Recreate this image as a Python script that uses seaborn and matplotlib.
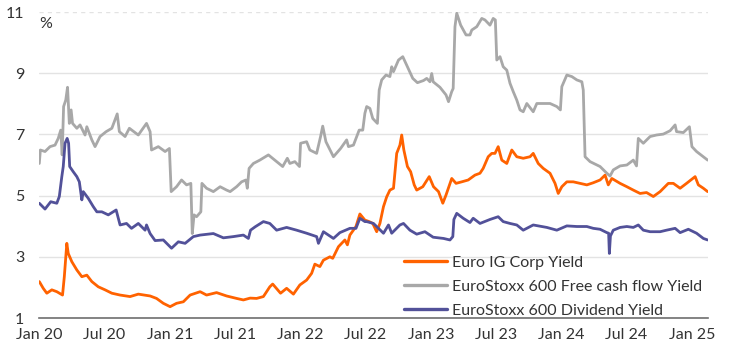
import matplotlib
matplotlib.use("Agg")
import matplotlib.pyplot as plt
import matplotlib.dates as mdates
import pandas as pd
import seaborn as sns

# --- data (% yields) ---

# Euro IG corporate bond yield
ig_dates = ["2020-01-01", "2020-01-12", "2020-01-22", "2020-02-05", "2020-02-19", "2020-03-06", "2020-03-11",
            "2020-03-18", "2020-03-22", "2020-04-01", "2020-04-15", "2020-04-29", "2020-05-13", "2020-05-27",
            "2020-06-14", "2020-07-03", "2020-07-22", "2020-08-14", "2020-09-11", "2020-10-04", "2020-11-06",
            "2020-11-24", "2020-12-13", "2021-01-01", "2021-01-19", "2021-02-07", "2021-02-26", "2021-03-26",
            "2021-04-13", "2021-05-11", "2021-06-08", "2021-07-06", "2021-07-25", "2021-08-13", "2021-08-31",
            "2021-09-19", "2021-10-07", "2021-10-15", "2021-11-06", "2021-11-23", "2021-12-12", "2021-12-30",
            "2022-01-18", "2022-02-01", "2022-02-10", "2022-02-24", "2022-03-06", "2022-03-24", "2022-04-01",
            "2022-04-17", "2022-05-05", "2022-05-12", "2022-05-19", "2022-06-05", "2022-06-16", "2022-06-30",
            "2022-07-12", "2022-07-22", "2022-08-02", "2022-08-11", "2022-08-21", "2022-08-30", "2022-09-08",
            "2022-09-18", "2022-09-27", "2022-10-06", "2022-10-11", "2022-10-17", "2022-10-27", "2022-11-05",
            "2022-11-15", "2022-11-22", "2022-12-09", "2022-12-27", "2023-01-08", "2023-01-22", "2023-02-03",
            "2023-02-12", "2023-02-28", "2023-03-12", "2023-03-28", "2023-04-15", "2023-05-04", "2023-05-18",
            "2023-05-27", "2023-06-10", "2023-06-20", "2023-06-29", "2023-07-08", "2023-07-18", "2023-08-01",
            "2023-08-15", "2023-08-29", "2023-09-16", "2023-10-05", "2023-10-14", "2023-10-28", "2023-11-11",
            "2023-11-30", "2023-12-14", "2023-12-23", "2024-01-02", "2024-01-16", "2024-02-03", "2024-02-22",
            "2024-03-12", "2024-03-30", "2024-04-18", "2024-05-02", "2024-05-11", "2024-05-21", "2024-06-13",
            "2024-07-02", "2024-07-20", "2024-08-08", "2024-08-26", "2024-09-14", "2024-10-03", "2024-10-26",
            "2024-11-09", "2024-11-28", "2024-12-16", "2025-01-09", "2025-01-18", "2025-02-01", "2025-02-13"]
ig_yield = [2.19, 1.97, 1.81, 1.92, 1.86, 1.75, 2.35, 3.44, 3.11, 2.84, 2.57, 2.35, 2.40, 2.19,
            2.02, 1.92, 1.81, 1.75, 1.70, 1.78, 1.72, 1.64, 1.48, 1.37, 1.48, 1.53, 1.75, 1.86,
            1.75, 1.83, 1.72, 1.64, 1.59, 1.65, 1.64, 1.70, 2.02, 2.11, 1.81, 1.97, 1.78, 2.08,
            2.24, 2.46, 2.76, 2.68, 2.89, 3.00, 2.95, 3.33, 3.55, 3.39, 3.71, 3.99, 4.40, 4.20,
            4.15, 4.09, 3.82, 4.09, 4.64, 4.96, 5.18, 5.24, 6.38, 6.65, 6.98, 6.49, 5.95, 5.78,
            5.35, 5.18, 5.29, 5.62, 5.29, 5.13, 4.75, 5.02, 5.56, 5.40, 5.45, 5.51, 5.67, 5.73,
            5.89, 6.27, 6.38, 6.38, 6.60, 6.16, 6.05, 6.49, 6.27, 6.22, 6.27, 6.38, 6.05, 5.89,
            5.73, 5.40, 5.07, 5.29, 5.45, 5.45, 5.40, 5.35, 5.42, 5.51, 5.67, 5.35, 5.56, 5.40,
            5.29, 5.18, 5.07, 5.10, 4.97, 5.13, 5.40, 5.40, 5.24, 5.40, 5.62, 5.35, 5.24, 5.13]

# EuroStoxx 600 free cash flow yield
fcf_dates = ["2020-01-01", "2020-01-04", "2020-01-17", "2020-01-31", "2020-02-14", "2020-02-23", "2020-03-01",
             "2020-03-05", "2020-03-09", "2020-03-15", "2020-03-20", "2020-03-25", "2020-03-30", "2020-04-03",
             "2020-04-15", "2020-04-24", "2020-05-08", "2020-05-13", "2020-05-27", "2020-06-05", "2020-06-19",
             "2020-07-06", "2020-07-22", "2020-08-06", "2020-08-12", "2020-08-28", "2020-09-09", "2020-10-04",
             "2020-10-27", "2020-11-06", "2020-11-10", "2020-11-29", "2020-12-18", "2020-12-30", "2021-01-04",
             "2021-01-19", "2021-02-02", "2021-02-16", "2021-02-28", "2021-03-04", "2021-03-09", "2021-03-16",
             "2021-03-28", "2021-03-31", "2021-04-13", "2021-05-02", "2021-05-21", "2021-06-08", "2021-06-18",
             "2021-07-06", "2021-07-20", "2021-08-01", "2021-08-05", "2021-08-10", "2021-08-22", "2021-09-09",
             "2021-10-03", "2021-10-26", "2021-11-12", "2021-11-25", "2021-12-02", "2021-12-16", "2021-12-29",
             "2022-01-01", "2022-01-18", "2022-01-27", "2022-02-15", "2022-02-26", "2022-03-04", "2022-03-13",
             "2022-04-03", "2022-04-23", "2022-05-10", "2022-05-15", "2022-05-29", "2022-06-14", "2022-06-24",
             "2022-06-30", "2022-07-05", "2022-07-14", "2022-07-22", "2022-08-04", "2022-08-09", "2022-08-16",
             "2022-08-28", "2022-09-08", "2022-09-13", "2022-09-18", "2022-10-02", "2022-10-14", "2022-10-27",
             "2022-11-11", "2022-11-24", "2022-12-11", "2022-12-20", "2022-12-29", "2023-01-03", "2023-01-07",
             "2023-01-26", "2023-02-12", "2023-02-19", "2023-02-28", "2023-03-04", "2023-03-09", "2023-03-14",
             "2023-03-25", "2023-04-09", "2023-04-20", "2023-04-25", "2023-05-09", "2023-05-23", "2023-06-01",
             "2023-06-15", "2023-06-24", "2023-06-30", "2023-07-04", "2023-07-13", "2023-07-22", "2023-08-01",
             "2023-08-10", "2023-08-19", "2023-08-29", "2023-09-07", "2023-09-16", "2023-09-26", "2023-10-14",
             "2023-10-24", "2023-11-11", "2023-11-30", "2023-12-19", "2023-12-29", "2024-01-02", "2024-01-16",
             "2024-01-30", "2024-02-13", "2024-02-27", "2024-03-02", "2024-03-07", "2024-03-21", "2024-04-09",
             "2024-04-18", "2024-05-07", "2024-05-16", "2024-05-25", "2024-06-13", "2024-07-02", "2024-07-20",
             "2024-07-29", "2024-08-03", "2024-08-17", "2024-09-05", "2024-09-23", "2024-10-12", "2024-10-31",
             "2024-11-14", "2024-11-18", "2024-12-07", "2024-12-24", "2024-12-31", "2025-01-13", "2025-02-01",
             "2025-02-13"]
fcf_yield = [6.05, 6.49, 6.44, 6.60, 6.65, 6.87, 7.14, 6.33, 7.91, 8.12, 8.54, 7.36, 7.80, 7.36,
             7.20, 7.31, 6.98, 7.25, 6.82, 6.60, 6.93, 7.09, 7.20, 7.67, 7.09, 6.93, 7.20, 6.98,
             7.36, 7.09, 6.49, 6.60, 6.44, 6.54, 5.13, 5.29, 5.51, 5.35, 5.40, 3.76, 4.37, 4.31,
             4.47, 5.40, 5.24, 5.13, 5.29, 5.18, 5.13, 5.29, 5.45, 5.51, 5.24, 5.89, 6.05, 6.16,
             6.33, 6.11, 5.95, 6.22, 6.05, 6.11, 5.95, 6.71, 6.76, 6.49, 6.38, 6.93, 7.27, 6.76,
             6.27, 6.54, 6.82, 6.60, 6.65, 7.14, 7.14, 7.69, 7.91, 7.85, 7.52, 7.36, 8.45, 8.78,
             8.94, 8.89, 9.21, 9.05, 9.43, 9.54, 9.21, 8.83, 8.69, 8.76, 8.83, 8.72, 8.99, 8.72,
             8.54, 8.29, 8.07, 8.40, 8.50, 10.52, 10.96, 10.57, 10.25, 10.25, 10.41, 10.52, 10.79, 10.74,
             10.57, 10.79, 10.74, 9.43, 9.54, 9.21, 9.10, 8.67, 8.40, 8.12, 7.80, 7.74, 8.01, 7.74,
             8.01, 8.01, 8.01, 7.91, 7.80, 8.56, 8.94, 8.89, 8.78, 8.72, 8.45, 6.27, 6.11, 6.00,
             5.95, 5.73, 5.64, 5.84, 5.97, 6.00, 6.16, 5.97, 6.87, 6.71, 6.93, 6.98, 7.01, 7.12,
             7.31, 7.09, 7.06, 7.25, 6.60, 6.44, 6.27, 6.16]

# EuroStoxx 600 dividend yield
div_dates = ["2020-01-01", "2020-01-17", "2020-02-02", "2020-02-19", "2020-02-26", "2020-03-04", "2020-03-08",
             "2020-03-13", "2020-03-19", "2020-03-23", "2020-03-26", "2020-04-05", "2020-04-15", "2020-04-22",
             "2020-04-29", "2020-05-03", "2020-05-17", "2020-05-31", "2020-06-10", "2020-06-24", "2020-07-12",
             "2020-08-03", "2020-08-14", "2020-09-01", "2020-09-15", "2020-10-04", "2020-10-23", "2020-10-27",
             "2020-11-06", "2020-11-20", "2020-12-13", "2021-01-05", "2021-01-24", "2021-02-12", "2021-03-07",
             "2021-03-26", "2021-05-02", "2021-05-30", "2021-06-27", "2021-07-25", "2021-08-08", "2021-08-14",
             "2021-08-27", "2021-09-19", "2021-10-07", "2021-10-26", "2021-11-23", "2021-12-21", "2022-01-18",
             "2022-02-15", "2022-02-20", "2022-03-06", "2022-04-03", "2022-04-21", "2022-05-19", "2022-06-05",
             "2022-06-16", "2022-06-30", "2022-07-05", "2022-07-24", "2022-08-07", "2022-08-21", "2022-09-04",
             "2022-09-13", "2022-10-06", "2022-10-16", "2022-11-03", "2022-11-22", "2022-12-15", "2023-01-07",
             "2023-02-05", "2023-02-23", "2023-03-03", "2023-03-06", "2023-03-14", "2023-04-01", "2023-04-20",
             "2023-04-29", "2023-05-18", "2023-06-15", "2023-07-08", "2023-07-22", "2023-08-10", "2023-08-29",
             "2023-09-16", "2023-10-14", "2023-11-21", "2023-12-19", "2024-01-16", "2024-02-13", "2024-03-12",
             "2024-03-30", "2024-04-18", "2024-05-07", "2024-05-12", "2024-05-14", "2024-05-17", "2024-05-25",
             "2024-06-13", "2024-07-02", "2024-07-20", "2024-08-03", "2024-08-17", "2024-09-05", "2024-10-03",
             "2024-10-21", "2024-11-14", "2024-11-28", "2024-12-21", "2025-01-13", "2025-02-01", "2025-02-13"]
div_yield = [4.75, 4.56, 4.80, 4.75, 4.97, 5.62, 5.95, 6.71, 6.87, 6.71, 5.95, 5.78, 5.62, 5.45,
             4.86, 5.13, 4.91, 4.64, 4.47, 4.47, 4.37, 4.53, 4.04, 4.09, 3.93, 4.09, 3.87, 4.04,
             3.76, 3.53, 3.55, 3.28, 3.49, 3.44, 3.66, 3.71, 3.76, 3.62, 3.66, 3.71, 3.60, 3.87,
             3.98, 4.15, 4.09, 3.87, 3.96, 3.87, 3.77, 3.66, 3.44, 3.82, 3.60, 3.79, 3.93, 3.93,
             4.26, 4.15, 4.15, 4.09, 3.93, 3.77, 4.04, 3.77, 4.04, 4.09, 3.87, 3.74, 3.82, 3.64,
             3.60, 3.55, 3.66, 4.22, 4.42, 4.26, 4.12, 4.26, 4.09, 4.22, 4.31, 4.15, 4.09, 4.04,
             3.87, 4.04, 3.96, 3.87, 4.01, 3.99, 3.99, 3.93, 3.90, 3.79, 3.77, 3.11, 3.68, 3.87,
             3.96, 3.99, 3.96, 4.04, 3.87, 3.82, 3.82, 3.87, 3.93, 3.79, 3.90, 3.77, 3.60, 3.55]

series_names = ["Euro IG Corp Yield", "EuroStoxx 600 Free cash flow Yield", "EuroStoxx 600 Dividend Yield"]
series_colors = ["#FF6200", "#A8A8A8", "#525199"]
y_ticks = [1, 3, 5, 7, 9, 11]

# long-form frame for seaborn
frames = []
for name, d, v in zip(series_names, [ig_dates, fcf_dates, div_dates], [ig_yield, fcf_yield, div_yield]):
    frames.append(pd.DataFrame({"date": pd.to_datetime(d), "value": v, "series": name}))
df = pd.concat(frames, ignore_index=True)

sns.set_theme(style="white")
plt.rcParams["font.family"] = ["Lato", "DejaVu Sans"]

fig = plt.figure(figsize=(7.43, 3.54), dpi=100)
ax = fig.add_axes([39.3 / 743, 1 - 318 / 354, (708 - 39.3) / 743, 306 / 354])

sns.lineplot(data=df, x="date", y="value", hue="series", hue_order=series_names,
             palette=dict(zip(series_names, series_colors)), linewidth=2.0,
             estimator=None, ax=ax)

# axes cosmetics
ax.set_xlim(pd.Timestamp("2020-01-01"), pd.Timestamp("2025-02-14"))
ax.set_ylim(1, 11)
ax.set_yticks(y_ticks)
ax.set_xlabel("")
ax.set_ylabel("")
ax.xaxis.set_major_locator(mdates.MonthLocator(bymonth=[1, 7]))
ax.xaxis.set_major_formatter(mdates.DateFormatter("%b %y"))

ax.yaxis.grid(True, color="#E3E3E3", linewidth=1.0)
ax.xaxis.grid(False)
ax.get_ygridlines()[-1].set_linestyle((0, (3, 3)))
ax.set_axisbelow(True)

for s in ["left", "right", "top"]:
    ax.spines[s].set_visible(False)
ax.spines["bottom"].set_color("#6E6E6E")
ax.spines["bottom"].set_linewidth(1.2)

ax.tick_params(axis="x", length=4, width=1, color="#6E6E6E", labelsize=11.5, labelcolor="#333333", pad=3)
ax.tick_params(axis="y", length=0, labelsize=11.5, labelcolor="#333333", pad=11)

ax.text(0.0, 0.985, "%", transform=ax.transAxes, ha="left", va="top", fontsize=11.5, color="#333333")

handles, labels = ax.get_legend_handles_labels()
for h in handles:
    h.set_linewidth(2.4)
ax.legend(handles, labels, loc="lower left", bbox_to_anchor=(0.545, 0.0), frameon=False,
          fontsize=11.5, handlelength=2.7, handletextpad=0.35, labelspacing=0.62,
          borderpad=0, borderaxespad=0, labelcolor="#333333")

fig.savefig("out.png", dpi=100)
